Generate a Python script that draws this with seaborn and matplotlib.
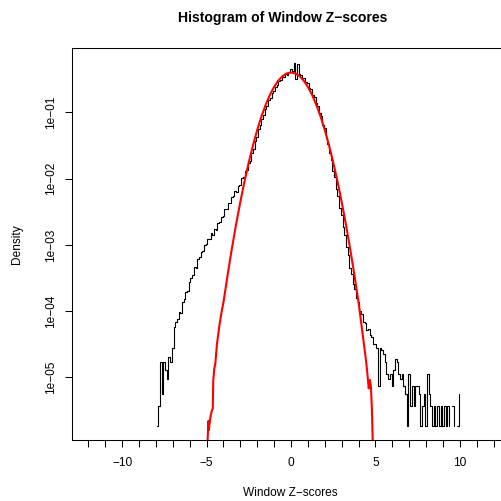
import numpy as np
import pandas as pd
import matplotlib
matplotlib.use("Agg")
import matplotlib.pyplot as plt
import seaborn as sns
from matplotlib.ticker import FixedLocator, NullLocator, FixedFormatter

# ---------------- data ----------------
bin_start = -8.0
bin_width = 0.1
n_total = 5347600

counts = [
    1, 2, 9, 3, 9, 7, 5, 11, 9, 15,
    31, 36, 40, 52, 50, 74, 80, 104, 109, 145,
    170, 188, 248, 240, 322, 345, 415, 430, 525, 545,
    660, 655, 800, 760, 925, 910, 1130, 1180, 1400, 1480,
    1880, 1860, 2320, 2250, 2820, 2880, 3500, 3350, 4150, 4300,
    5500, 5550, 6900, 7100, 9200, 9900, 13100, 14700, 19700, 23000,
    29800, 34000, 43000, 48500, 60500, 66500, 81500, 88000, 105000, 112000,
    131000, 138000, 158000, 162000, 183000, 184000, 203000, 198000, 214000, 245000,
    222000, 300000, 168000, 285000, 203000, 196000, 178000, 176000, 151000, 147000,
    126000, 119000, 99000, 92000, 74500, 67500, 53000, 47000, 34500, 31000,
    22500, 17800, 12900, 10300, 7000, 5600, 3750, 2900, 1950, 1520,
    1010, 760, 495, 380, 236, 196, 137, 116, 83, 74,
    53, 48, 36, 35, 28, 29, 23, 22, 17, 17,
    15, 4, 15, 14, 12, 9, 6, 5, 6, 4,
    7, 10, 9, 6, 5, 6, 4, 3, 1, 6,
    2, 4, 2, 4, 4, 3, 1, 2, 3, 1,
    6, 3, 2, 1, 2, 1, 2, 1, 2, 1,
    2, 1, 2, 1, 0, 2, 1, 0, 1, 3,
]

red_x = [-5.00, -4.93, -4.89, -4.86, -4.83, -4.76, -4.69, -4.63, -4.60, -4.54,
         -4.48, -4.38, -4.24, -4.10, -4.00, -3.75, -3.50, -3.25, -3.00, -2.75,
         -2.50, -2.25, -2.00, -1.75, -1.50, -1.25, -1.00, -0.75, -0.50, -0.25,
         0.00, 0.25, 0.50, 0.75, 1.00, 1.25, 1.50, 1.75, 2.00, 2.25,
         2.50, 2.75, 3.00, 3.25, 3.50, 3.75, 4.00, 4.15, 4.30, 4.45,
         4.54, 4.60, 4.67, 4.73, 4.79, 4.86]
red_density = [5.0e-7, 1.2e-6, 2.2e-6, 1.6e-6, 1.9e-6, 2.6e-6, 3.1e-6, 3.4e-6, 9.0e-6, 1.35e-5,
               1.6e-5, 3.2e-5, 6.0e-5, 1.0e-4, 1.34e-4, 3.53e-4, 8.73e-4, 2.03e-3, 4.43e-3, 9.09e-3,
               1.75e-2, 3.17e-2, 5.40e-2, 8.63e-2, 1.295e-1, 1.826e-1, 2.420e-1, 3.011e-1, 3.521e-1, 3.867e-1,
               3.989e-1, 3.867e-1, 3.521e-1, 3.011e-1, 2.420e-1, 1.826e-1, 1.295e-1, 8.63e-2, 5.40e-2, 3.17e-2,
               1.75e-2, 9.09e-3, 4.43e-3, 2.03e-3, 8.73e-4, 3.53e-4, 1.34e-4, 6.8e-5, 3.4e-5, 1.7e-5,
               1.0e-5, 6.8e-6, 9.1e-6, 7.2e-6, 3.2e-6, 6.0e-7]

x_ticks = list(range(-12, 13))
x_label_values = [-10, -5, 0, 5, 10]
x_label_texts = ["\u221210", "\u22125", "0", "5", "10"]
y_ticks = [1e-1, 1e-2, 1e-3, 1e-4, 1e-5]
y_tick_labels = ["1e\u221201", "1e\u221202", "1e\u221203", "1e\u221204", "1e\u221205"]

title = "Histogram of Window Z\u2212scores"
xlabel = "Window Z\u2212scores"
ylabel = "Density"

# ---------------- build tables ----------------
counts_arr = np.array(counts, dtype=float)
mids = bin_start + bin_width * (np.arange(len(counts_arr)) + 0.5)
density = counts_arr / (n_total * bin_width)
run_id = np.cumsum(counts_arr == 0)
hist_df = pd.DataFrame({"z": mids, "density": density, "run": run_id})
hist_df = hist_df[counts_arr > 0]

red_df = pd.DataFrame({"z": red_x, "density": red_density})

# ---------------- style ----------------
sns.set_theme(style="ticks")
plt.rcParams["font.family"] = ["Liberation Sans", "DejaVu Sans"]
plt.rcParams["axes.linewidth"] = 0.75
plt.rcParams["axes.edgecolor"] = "black"

W, H = 502, 501
fig = plt.figure(figsize=(W / 100, H / 100), dpi=100)
fig.patch.set_facecolor("white")
ax = fig.add_axes([72 / W, (H - 440) / H, 438 / W, 391.7 / H])
ax.set_facecolor("white")
ax.set_yscale("log")

sns.lineplot(data=hist_df, x="z", y="density", units="run", estimator=None,
             sort=False, drawstyle="steps-post", color="black", linewidth=0.8,
             ax=ax, legend=False)
sns.lineplot(data=red_df, x="z", y="density", estimator=None, sort=False,
             color="#ff0000", linewidth=1.5, ax=ax, legend=False)

ax.set_xlim(-12.96, 12.96)
ax.set_ylim(10 ** -5.946, 10 ** -0.034)

ax.xaxis.set_major_locator(FixedLocator(x_ticks))
ax.xaxis.set_major_formatter(FixedFormatter(
    [x_label_texts[x_label_values.index(t)] if t in x_label_values else "" for t in x_ticks]))
ax.yaxis.set_major_locator(FixedLocator(y_ticks))
ax.yaxis.set_major_formatter(FixedFormatter(y_tick_labels))
ax.yaxis.set_minor_locator(NullLocator())
ax.xaxis.set_minor_locator(NullLocator())

ax.tick_params(axis="both", which="major", direction="out", length=5.0, width=0.75,
               color="black", labelcolor="black", labelsize=8.6)
ax.tick_params(axis="x", pad=6.9)
ax.tick_params(axis="y", pad=5.9)
for lab in ax.get_yticklabels():
    lab.set_rotation(90)
    lab.set_va("center")
    lab.set_ha("right")

for sp in ax.spines.values():
    sp.set_visible(True)
    sp.set_color("black")
    sp.set_linewidth(0.75)
ax.grid(False)
ax.set_xlabel("")
ax.set_ylabel("")

fig.text(283 / W, 1 - 18 / H, title, ha="center", va="center",
         fontsize=10.1, fontweight="bold", color="black")
fig.text(290 / W, 1 - 493 / H, xlabel, ha="center", va="center",
         fontsize=8.6, color="black")
fig.text(17 / W, 1 - 244 / H, ylabel, ha="center", va="center",
         rotation=90, fontsize=8.6, color="black")

fig.savefig("out.png", dpi=100)
